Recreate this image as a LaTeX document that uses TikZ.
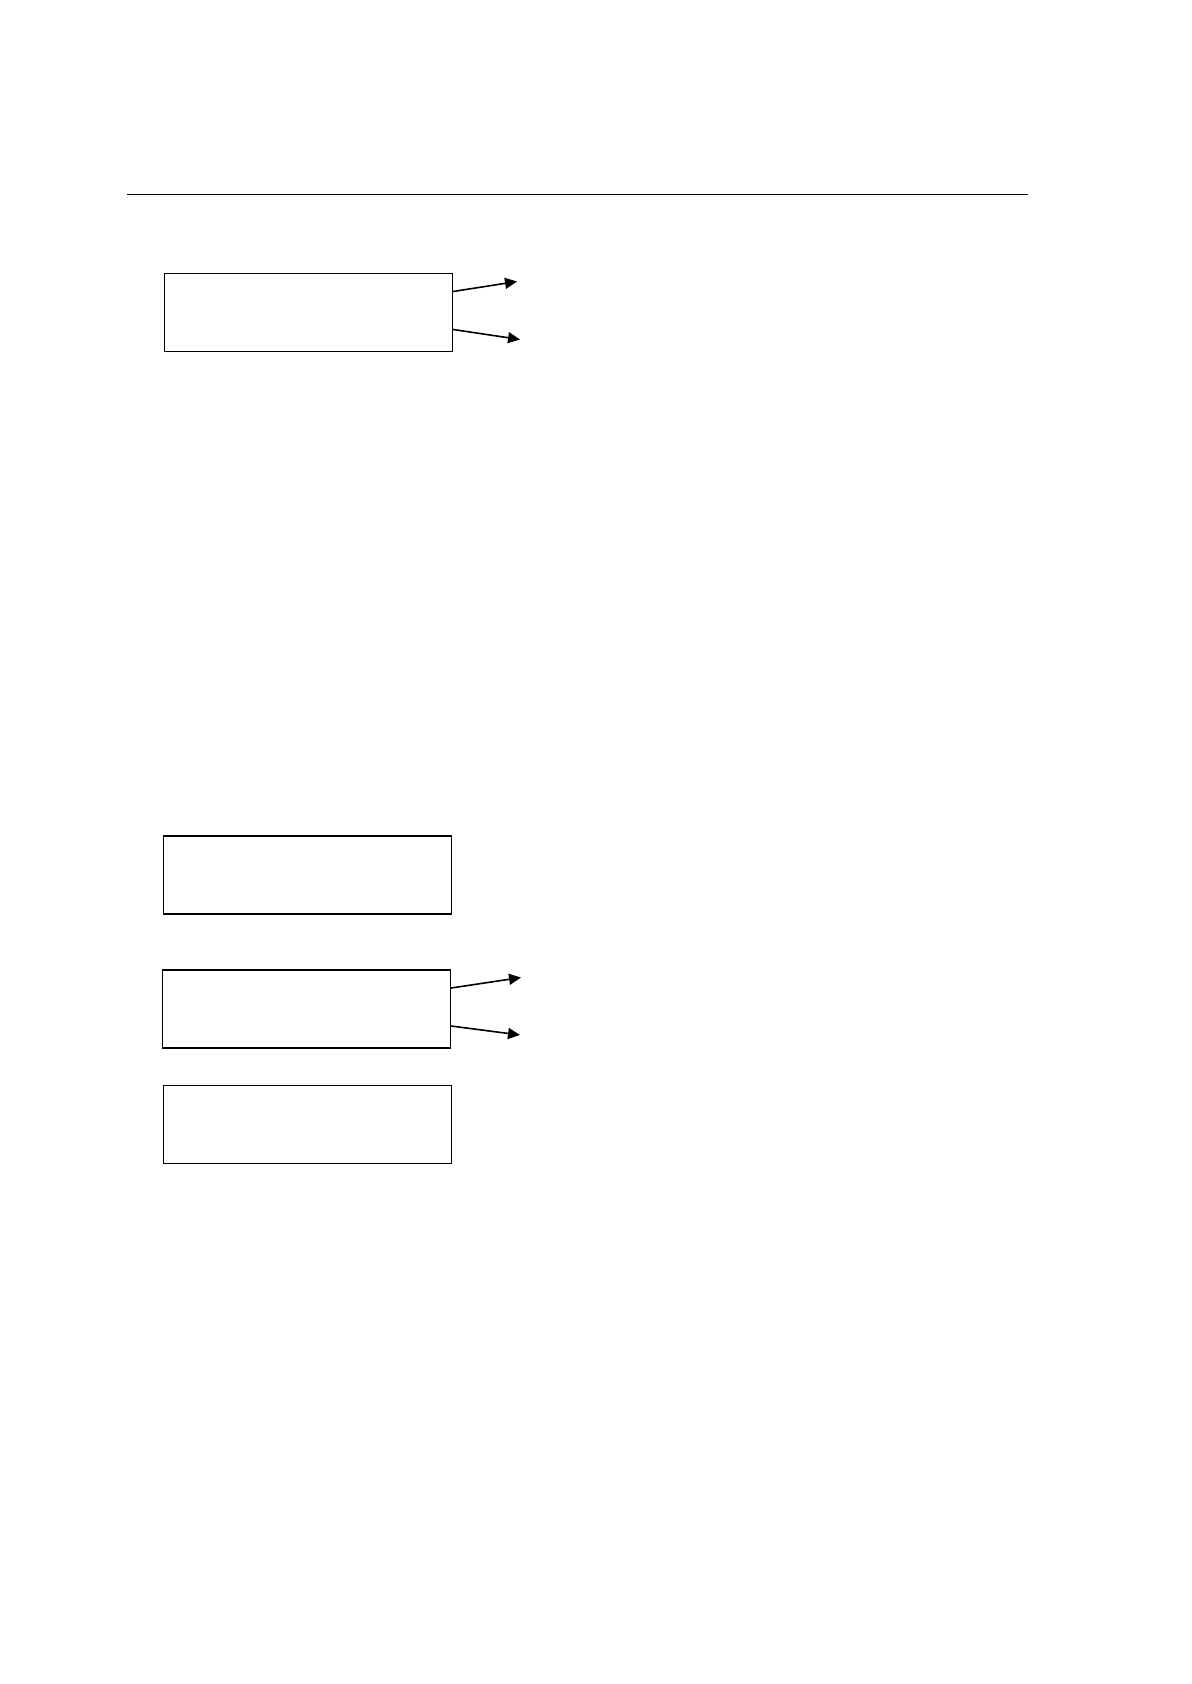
\documentclass[tikz,border=0pt]{standalone}
\usepackage{tikz}
\usetikzlibrary{arrows.meta,positioning}

\begin{document}
\begin{tikzpicture}[x=0.5pt, y=-0.5pt, >={Triangle[length=6pt,width=5.5pt]}, line width=0.6pt,
  blank/.style={draw,rectangle,minimum width=144pt,minimum height=39pt,inner sep=0pt}]
\useasboundingbox[fill=white] (0,0) rectangle (1191,1684);
\coordinate (ruleL) at (127,194.5);
\coordinate (ruleR) at (1028,194.5);
\draw[line width=0.5pt] (ruleL) -- (ruleR);
\node[blank] (top)   at (308.5,312.5)  {};
\node[blank] (upper) at (307.5,875)  {};
\node[blank] (split) at (306.5,1009) {};
\node[blank] (low)   at (307.5,1124.5) {};
\coordinate (topA)   at (517,281.5);
\coordinate (topB)   at (520,339.5);
\coordinate (splitA) at (521,977.5);
\coordinate (splitB) at (520,1035);
\draw[->,line width=0.8pt] ([yshift=10.5pt]top.east) -- (topA);
\draw[->,line width=0.8pt] ([yshift=-8.5pt]top.east) -- (topB);
\draw[->,line width=0.8pt] ([yshift=10.5pt]split.east) -- (splitA);
\draw[->,line width=0.8pt] ([yshift=-8.5pt]split.east) -- (splitB);
\end{tikzpicture}
\end{document}
